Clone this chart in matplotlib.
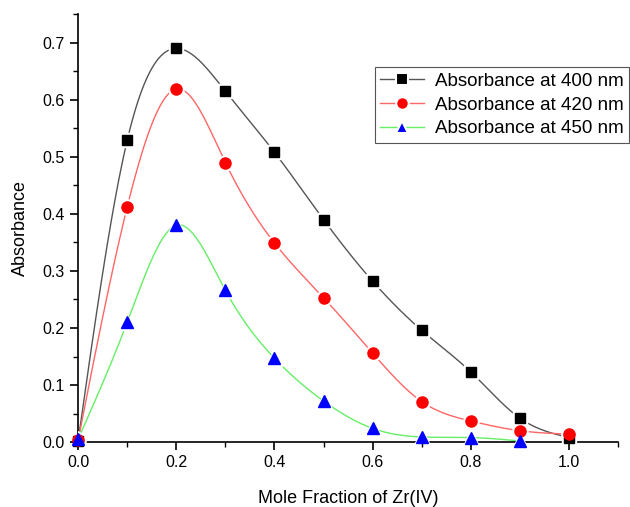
import numpy as np
import matplotlib
matplotlib.use("Agg")
import matplotlib.pyplot as plt
from matplotlib.ticker import MultipleLocator, FormatStrFormatter

plt.rcParams["font.family"] = ["Liberation Sans", "DejaVu Sans"]

# data
mole_fraction = [0.0, 0.1, 0.2, 0.3, 0.4, 0.5, 0.6, 0.7, 0.8, 0.9, 1.0]
abs_400 = [0.002, 0.529, 0.690, 0.615, 0.508, 0.390, 0.282, 0.196, 0.123, 0.042, 0.008]
abs_420 = [0.003, 0.412, 0.619, 0.490, 0.349, 0.253, 0.156, 0.071, 0.037, 0.020, 0.014]
mole_fraction_450 = [0.0, 0.1, 0.2, 0.3, 0.4, 0.5, 0.6, 0.7, 0.8, 0.9]
abs_450 = [0.005, 0.210, 0.380, 0.266, 0.147, 0.072, 0.024, 0.009, 0.008, 0.002]

labels = ["Absorbance at 400 nm", "Absorbance at 420 nm", "Absorbance at 450 nm"]


def natural_spline(x, y, n=400):
    x = np.asarray(x, float)
    y = np.asarray(y, float)
    k = len(x)
    h = np.diff(x)
    A = np.zeros((k, k))
    b = np.zeros(k)
    A[0, 0] = A[-1, -1] = 1.0
    for i in range(1, k - 1):
        A[i, i - 1] = h[i - 1]
        A[i, i] = 2 * (h[i - 1] + h[i])
        A[i, i + 1] = h[i]
        b[i] = 6 * ((y[i + 1] - y[i]) / h[i] - (y[i] - y[i - 1]) / h[i - 1])
    m = np.linalg.solve(A, b)
    xs = np.linspace(x[0], x[-1], n)
    idx = np.clip(np.searchsorted(x, xs) - 1, 0, k - 2)
    x0, x1 = x[idx], x[idx + 1]
    hh = x1 - x0
    t0, t1 = x1 - xs, xs - x0
    ys = (m[idx] * t0 ** 3 + m[idx + 1] * t1 ** 3) / (6 * hh) \
        + (y[idx] / hh - m[idx] * hh / 6) * t0 \
        + (y[idx + 1] / hh - m[idx + 1] * hh / 6) * t1
    return xs, ys


fig = plt.figure(figsize=(6.3, 5.07), dpi=100)
ax = fig.add_axes([0.124, 0.128, 0.857, 0.844])

series = [
    (mole_fraction, abs_400, "#555555", "black", "s", 7),
    (mole_fraction, abs_420, "#ff6666", "red", "o", 8),
    (mole_fraction_450, abs_450, "#66ee66", "blue", "^", 8),
]
handles = []
for (xv, yv, lc, mc, mk, ms), lab in zip(series, labels):
    xs, ys = natural_spline(xv, yv)
    ax.plot(xs, ys, color=lc, lw=1.0, zorder=2)
    ax.plot(xv, yv, ls="none", marker=mk, ms=ms + 3, color="white", zorder=3)
    ax.plot(xv, yv, ls="none", marker=mk, ms=ms, color=mc, zorder=4, clip_on=False)
    h, = ax.plot([], [], color=lc, lw=1.0, marker=mk, ms=ms + 1, mfc=mc, mec="white",
                 mew=1.5)
    handles.append(h)

ax.set_xlim(0, 1.1)
ax.set_ylim(0, 0.75)
ax.xaxis.set_major_locator(MultipleLocator(0.2))
ax.xaxis.set_minor_locator(MultipleLocator(0.1))
ax.yaxis.set_major_locator(MultipleLocator(0.1))
ax.yaxis.set_minor_locator(MultipleLocator(0.05))
ax.xaxis.set_major_formatter(FormatStrFormatter("%.1f"))
ax.yaxis.set_major_formatter(FormatStrFormatter("%.1f"))
ax.set_xticks([0.0, 0.2, 0.4, 0.6, 0.8, 1.0])
for s in ("top", "right"):
    ax.spines[s].set_visible(False)
for s in ("left", "bottom"):
    ax.spines[s].set_linewidth(1.2)
ax.tick_params(which="major", direction="out", length=6, width=1.2, labelsize=11.5)
ax.tick_params(which="minor", direction="out", length=3.5, width=1.0)
ax.set_xlabel("Mole Fraction of Zr(IV)", fontsize=13, labelpad=14)
ax.set_ylabel("Absorbance", fontsize=13, labelpad=10)

leg = fig.legend(handles, labels, loc="upper left", bbox_to_anchor=(0.595, 0.868),
                 borderaxespad=0, fontsize=13.5, handlelength=2.3, handletextpad=0.6,
                 borderpad=0.3, labelspacing=0.36, fancybox=False, framealpha=1)
leg.get_frame().set_edgecolor("#555555")
leg.get_frame().set_linewidth(0.8)

fig.savefig("out.png", dpi=100)
